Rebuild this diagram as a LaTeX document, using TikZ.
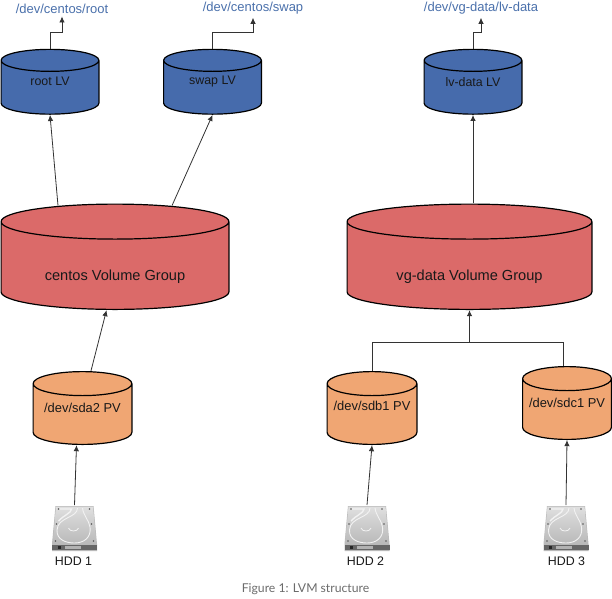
\documentclass[tikz,border=0pt]{standalone}
\usepackage{fontspec}
\setmainfont{Liberation Sans}
\newfontfamily\captionfont{Lato}
\usepackage{xcolor}
\usetikzlibrary{arrows.meta,positioning,calc}
\definecolor{lvblue}{HTML}{466BAC}
\definecolor{vgred}{HTML}{DB6A69}
\definecolor{pvorange}{HTML}{F0A673}
\definecolor{pathblue}{HTML}{4A70AB}
\tikzset{
  volbox/.style 2 args={rectangle, inner sep=0pt, text=black!90,
    path picture={
      \draw[fill=#1, line width=1.2pt, line join=round]
        let \p1=(path picture bounding box.south west), \p2=(path picture bounding box.north east), \n1={(\x2-\x1)/2-0.6pt} in
        (\x1+0.6pt,\y2-#2-0.6pt) -- (\x1+0.6pt,\y1+#2+0.6pt)
        arc[start angle=180, end angle=360, x radius=\n1, y radius=#2]
        -- (\x2-0.6pt,\y2-#2-0.6pt)
        arc[start angle=0, end angle=180, x radius=\n1, y radius=#2]
        arc[start angle=180, end angle=360, x radius=\n1, y radius=#2];
    }},
  lvbox/.style={volbox={lvblue}{11pt}, minimum width=99pt, minimum height=66pt, font=\fontsize{12.4}{14}\selectfont},
  vgbox/.style={volbox={vgred}{17.5pt}, minimum height=106.5pt, text height=51pt, text depth=3pt, font=\fontsize{14.6}{16}\selectfont},
  pvbox/.style={volbox={pvorange}{12pt}, minimum height=74pt, font=\fontsize{12.9}{15}\selectfont},
  pathlabel/.style={text=pathblue, font=\fontsize{13}{15}\selectfont, inner sep=0pt},
  hddlabel/.style={text=black!90, font=\fontsize{12.4}{14}\selectfont, inner sep=0pt},
  volline/.style={-{Latex[length=6pt,width=5.5pt]}, line width=0.8pt, draw=black!80},
  hdd/.pic={
    \fill[gray!55] (-19,-22) -- (19,-22) -- (22.5,16) -- (22.5,23) -- (-22.5,23) -- (-22.5,16) -- cycle;
    \shade[top color=gray!25, bottom color=gray!55] (-18.5,-21.5) -- (18.5,-21.5) -- (22,16) -- (-22,16) -- cycle;
    \fill[black!60] (-22.5,17) rectangle (22.5,22);
    \fill[black!30] (-10,18) rectangle (6,20.5);
    \fill[black!85] (-17,18) rectangle (-14,21);
    \draw[white!90!gray, line width=0.9pt] (3,-20) .. controls (3,-10) and (-17,-11) .. (-17.5,2) .. controls (-18,12) and (-8,15) .. (0,15) .. controls (10,15) and (17,9) .. (15.5,-1) .. controls (14.5,-8) and (9,-12) .. (8,-20);
    \draw[white!90!gray, line width=1.4pt] (-15,-19) -- (-3,-19) .. controls (-3,-15) and (-12,-12) .. (-16,-7);
    \draw[white!90!gray, line width=0.8pt] (-6,0) .. controls (-5,4) and (3,4) .. (4,0);
    \foreach \sx/\sy in {-16/-19,15/-19,-18/-4,17/-4,-19/13,19/13} {\fill[gray!70!black] (\sx,\sy) circle (0.9);}
    \coordinate (-top) at (0,-23);
  }
}

\begin{document}
\begin{tikzpicture}[x=1pt,y=-1pt]
  \useasboundingbox (0,0) rectangle (612,598);

  % logical volumes
  \node[lvbox] (rootlv) at (50,81.75) {root LV};
  \node[lvbox] (swaplv) at (212.5,81.75) {swap LV};
  \node[lvbox] (datalv) at (473,81.75) {lv-data LV};

  % volume groups
  \node[vgbox, minimum width=229pt] (centosvg) at (115,256.75) {centos Volume Group};
  \node[vgbox, minimum width=246pt] (datavg) at (469.5,256.75) {vg-data Volume Group};

  % physical volumes
  \node[pvbox, minimum width=100pt] (sdapv) at (82.5,408) {/dev/sda2 PV};
  \node[pvbox, minimum width=91pt, text depth=5pt] (sdbpv) at (372,408) {/dev/sdb1 PV};
  \node[pvbox, minimum width=90pt] (sdcpv) at (567,403) {/dev/sdc1 PV};

  % disks
  \pic (hddone) at (74.5,528) {hdd};
  \pic (hddtwo) at (367,528) {hdd};
  \pic (hddthree) at (566,528) {hdd};
  \node[hddlabel] (hddonetext) at (73.5,561) {HDD 1};
  \node[hddlabel] (hddtwotext) at (365.5,561) {HDD 2};
  \node[hddlabel] (hddthreetext) at (566.5,561) {HDD 3};

  % device paths
  \node[pathlabel] (rootpath) at (62,8.5) {/dev/centos/root};
  \node[pathlabel] (swappath) at (253,8.5) {/dev/centos/swap};
  \node[pathlabel] (datapath) at (481,8.5) {/dev/vg-data/lv-data};

  \draw[volline] (rootlv.north) -- ++(0,-16) -| ([yshift=-3pt]rootpath.south);
  \draw[volline] (swaplv.north) -- ++(0,-16) -| ([yshift=-3pt]swappath.south);
  \draw[volline] (datalv.north) -- ++(0,-16) -| ([yshift=-3pt]datapath.south);

  \draw[volline] ([xshift=-57pt,yshift=-2.3pt]centosvg.north) -- (rootlv.south);
  \draw[volline] ([xshift=57pt,yshift=-2.3pt]centosvg.north) -- (swaplv.south);
  \draw[volline] ([xshift=3.5pt]datavg.north) -- (datalv.south);

  \draw[volline] ([xshift=8.5pt]sdapv.north) -- ([xshift=-8.5pt]centosvg.south);
  \draw[line width=0.8pt, draw=black!80] (sdbpv.north) |- ([xshift=-4pt]sdcpv.north |- 0,342) -- ([xshift=-4pt]sdcpv.north);
  \draw[volline] (sdbpv.north |- 0,342) -| (datavg.south);

  \draw[volline] (hddone-top) -- ([xshift=-6pt]sdapv.south);
  \draw[volline] (hddtwo-top) -- (sdbpv.south);
  \draw[volline] (hddthree-top) -- (sdcpv.south);

  \node[text=black!58, font=\captionfont\fontsize{12.2}{14}\selectfont, inner sep=0pt] (figcaption) at (305.5,589) {Figure 1: LVM structure};
\end{tikzpicture}
\end{document}
